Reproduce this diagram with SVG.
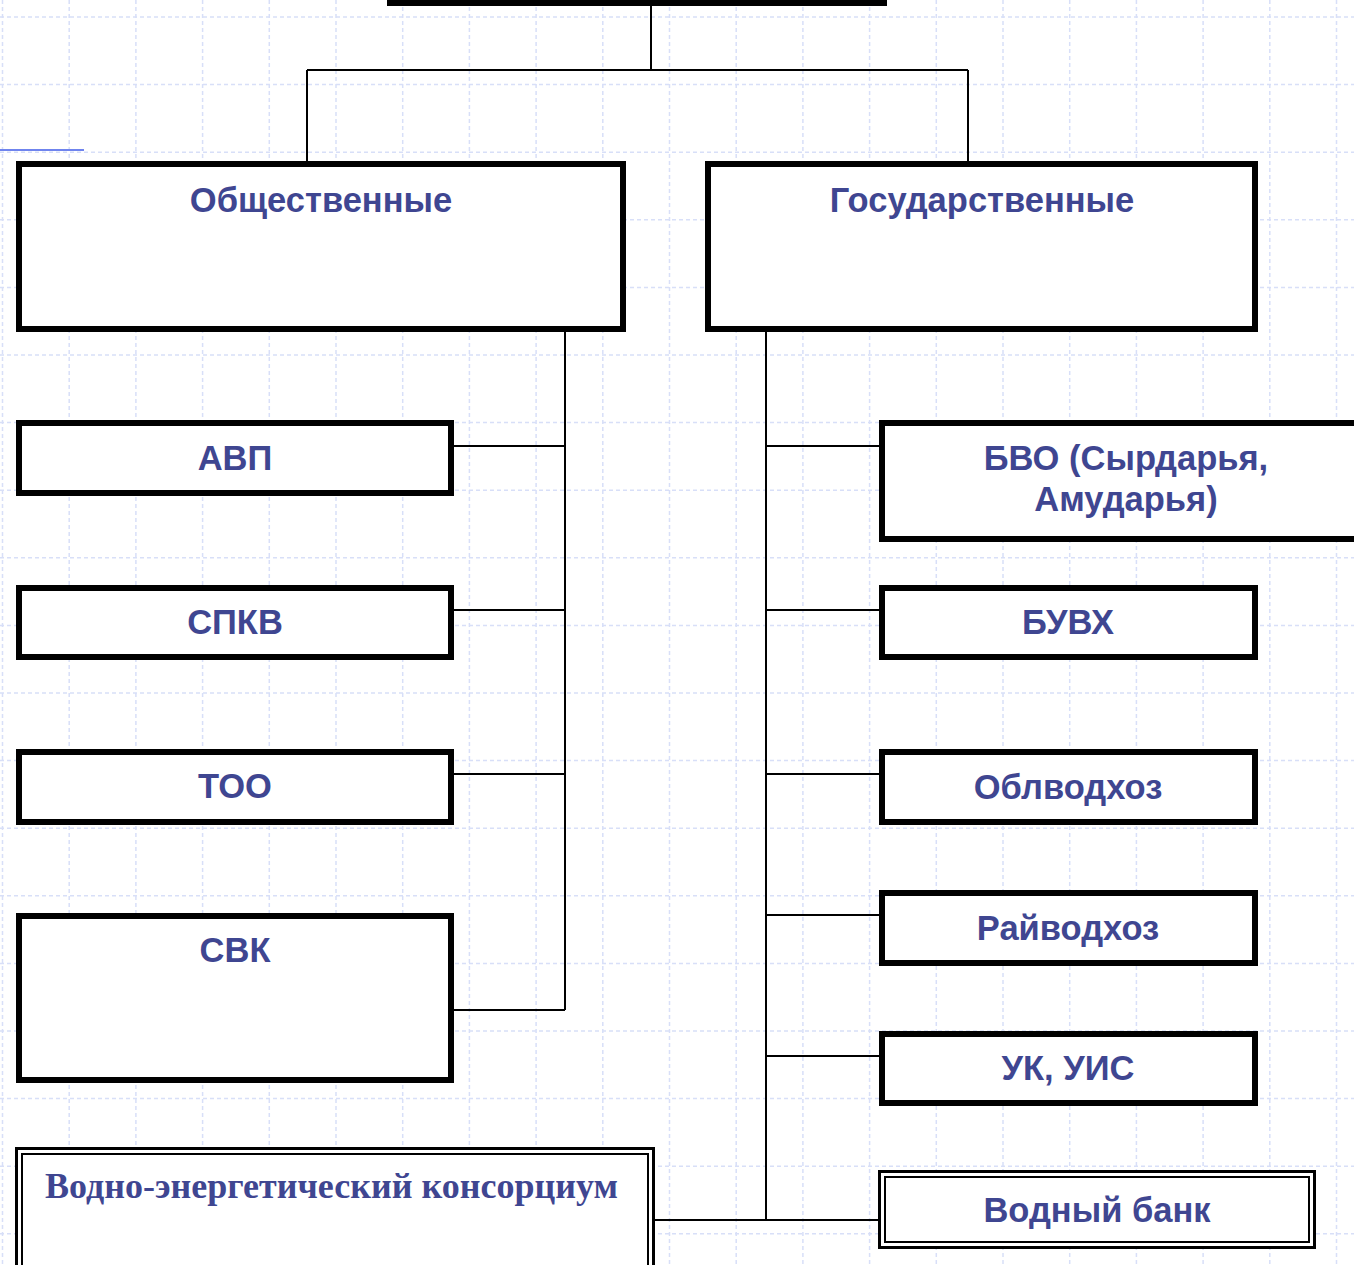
<svg xmlns="http://www.w3.org/2000/svg" width="1354" height="1265" viewBox="0 0 1354 1265">
<style>
.grid line{stroke:#d8dff8;stroke-width:1.5;stroke-dasharray:4 3;fill:none}
.box{fill:#fff;stroke:#000;stroke-width:6}
.dbl-o{fill:#fff;stroke:#000;stroke-width:3}
.dbl-i{fill:none;stroke:#000;stroke-width:2}
.conn path{fill:none;stroke:#000;stroke-width:2}
.t{font-family:"Liberation Sans",Arial,sans-serif;font-weight:bold;font-size:34.5px;fill:#3f4691;text-anchor:middle}
.ts{font-family:"Liberation Serif","Times New Roman",serif;font-weight:bold;font-size:36px;fill:#3f4691}
</style>
<rect x="0" y="0" width="1354" height="1265" fill="#fff"/>
<g class="grid">
<line x1="2.5" y1="0" x2="2.5" y2="1265"/><line x1="69.2" y1="0" x2="69.2" y2="1265"/><line x1="135.9" y1="0" x2="135.9" y2="1265"/><line x1="202.6" y1="0" x2="202.6" y2="1265"/><line x1="269.3" y1="0" x2="269.3" y2="1265"/><line x1="336" y1="0" x2="336" y2="1265"/><line x1="402.7" y1="0" x2="402.7" y2="1265"/><line x1="469.4" y1="0" x2="469.4" y2="1265"/><line x1="536.1" y1="0" x2="536.1" y2="1265"/><line x1="602.8" y1="0" x2="602.8" y2="1265"/><line x1="669.5" y1="0" x2="669.5" y2="1265"/><line x1="736.2" y1="0" x2="736.2" y2="1265"/><line x1="802.9" y1="0" x2="802.9" y2="1265"/><line x1="869.6" y1="0" x2="869.6" y2="1265"/><line x1="936.3" y1="0" x2="936.3" y2="1265"/><line x1="1003" y1="0" x2="1003" y2="1265"/><line x1="1069.7" y1="0" x2="1069.7" y2="1265"/><line x1="1136.4" y1="0" x2="1136.4" y2="1265"/><line x1="1203.1" y1="0" x2="1203.1" y2="1265"/><line x1="1269.8" y1="0" x2="1269.8" y2="1265"/><line x1="1336.5" y1="0" x2="1336.5" y2="1265"/>
<line x1="0" y1="17" x2="1354" y2="17"/><line x1="0" y1="84.6" x2="1354" y2="84.6"/><line x1="0" y1="152.2" x2="1354" y2="152.2"/><line x1="0" y1="219.8" x2="1354" y2="219.8"/><line x1="0" y1="287.4" x2="1354" y2="287.4"/><line x1="0" y1="355" x2="1354" y2="355"/><line x1="0" y1="422.6" x2="1354" y2="422.6"/><line x1="0" y1="490.2" x2="1354" y2="490.2"/><line x1="0" y1="557.8" x2="1354" y2="557.8"/><line x1="0" y1="625.4" x2="1354" y2="625.4"/><line x1="0" y1="693" x2="1354" y2="693"/><line x1="0" y1="760.6" x2="1354" y2="760.6"/><line x1="0" y1="828.2" x2="1354" y2="828.2"/><line x1="0" y1="895.8" x2="1354" y2="895.8"/><line x1="0" y1="963.4" x2="1354" y2="963.4"/><line x1="0" y1="1031" x2="1354" y2="1031"/><line x1="0" y1="1098.6" x2="1354" y2="1098.6"/><line x1="0" y1="1166.2" x2="1354" y2="1166.2"/><line x1="0" y1="1233.8" x2="1354" y2="1233.8"/>
</g>
<line x1="0" y1="150" x2="84" y2="150" stroke="#6f84ee" stroke-width="2"/>
<g class="conn" id="connectors">
<path d="M651 5 V70 M307 70 H968 M307 70 V162 M968 70 V162"/>
<path d="M565 332 V1010 M452 446 H565 M452 610 H565 M452 774 H565 M452 1010 H565"/>
<path d="M766 332 V1220 M766 446 H880 M766 610 H880 M766 774 H880 M766 915 H880 M766 1056 H880 M652 1220 H880"/>
</g>
<g id="top"><rect x="387" y="-20" width="500" height="26" fill="#000"/></g>
<g id="obshch"><rect class="box" x="19" y="164" width="604" height="165"/><text class="t" x="321" y="212">Общественные</text></g>
<g id="gosud"><rect class="box" x="708" y="164" width="547" height="165"/><text class="t" x="982" y="212">Государственные</text></g>
<g id="avp"><rect class="box" x="19" y="423" width="432" height="70"/><text class="t" x="235" y="470">АВП</text></g>
<g id="spkv"><rect class="box" x="19" y="588" width="432" height="69"/><text class="t" x="235" y="634">СПКВ</text></g>
<g id="too"><rect class="box" x="19" y="752" width="432" height="70"/><text class="t" x="235" y="798">ТОО</text></g>
<g id="svk"><rect class="box" x="19" y="916" width="432" height="164"/><text class="t" x="235" y="962">СВК</text></g>
<g id="bvo"><rect class="box" x="882" y="423" width="490" height="116"/><text class="t" x="1126" y="470">БВО (Сырдарья,</text><text class="t" x="1126" y="511">Амударья)</text></g>
<g id="buvh"><rect class="box" x="882" y="588" width="373" height="69"/><text class="t" x="1068" y="634">БУВХ</text></g>
<g id="oblvodhoz"><rect class="box" x="882" y="752" width="373" height="70"/><text class="t" x="1068" y="799">Облводхоз</text></g>
<g id="rayvodhoz"><rect class="box" x="882" y="893" width="373" height="70"/><text class="t" x="1068" y="940">Райводхоз</text></g>
<g id="uk"><rect class="box" x="882" y="1034" width="373" height="69"/><text class="t" x="1068" y="1080">УК, УИС</text></g>
<g id="vodbank"><rect class="dbl-o" x="879.5" y="1171.5" width="435" height="76"/><rect class="dbl-i" x="885" y="1177" width="424" height="65"/><text class="t" x="1097" y="1222">Водный банк</text></g>
<g id="konsorcium"><rect class="dbl-o" x="16.5" y="1148.5" width="637" height="130"/><rect class="dbl-i" x="22" y="1154" width="626" height="130"/><text class="ts" x="45" y="1198">Водно-энергетический консорциум</text></g>
</svg>
